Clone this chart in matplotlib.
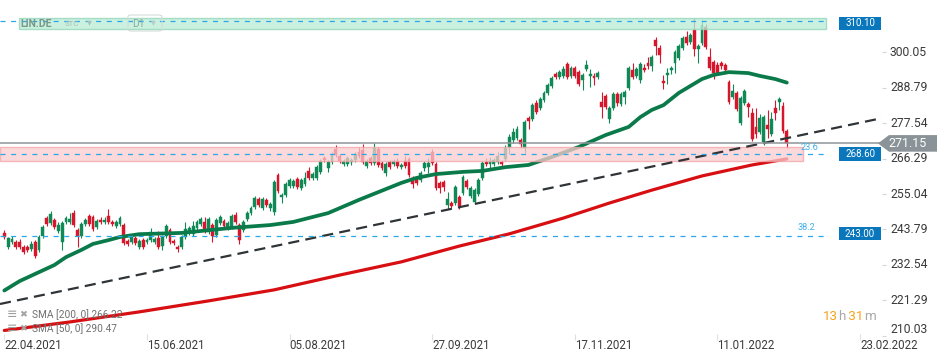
import matplotlib
matplotlib.use('Agg')
import matplotlib.pyplot as plt
import matplotlib.transforms as mtransforms
from matplotlib.patches import Rectangle, Polygon, FancyBboxPatch
import numpy as np

plt.rcParams['font.family'] = ['Roboto', 'DejaVu Sans']

# ---------------- data ----------------
opens = [242.7, 238.2, 239.8, 239.8, 239.8, 238.2, 238.2, 237.6, 239.8, 237.3,
         241.7, 247.4, 245.8, 246.8, 243.3, 239.8, 246.1, 246.1, 249.0, 243.6,
         241.7, 245.5, 248.1, 247.7, 244.6, 246.8, 246.1, 248.1, 246.1, 244.9,
         245.5, 245.2, 240.1, 239.8, 241.1, 238.2, 240.5, 239.8, 240.5, 239.8,
         241.1, 238.5, 241.7, 243.6, 240.1, 238.2, 238.2, 241.4, 242.7, 242.4,
         244.3, 245.5, 246.1, 243.0, 245.2, 242.0, 245.8, 246.5, 244.3, 244.6,
         248.4, 245.2, 243.6, 247.1, 249.0, 250.9, 253.5, 250.6, 253.2, 250.6,
         249.3, 261.1, 254.1, 254.8, 257.6, 257.6, 259.8, 257.0, 258.2, 262.4,
         260.1, 260.1, 262.0, 266.5, 263.3, 265.2, 269.4, 267.1, 264.6, 264.6,
         265.2, 265.9, 268.4, 269.0, 264.0, 266.5, 264.9, 269.4, 264.9, 261.7,
         265.2, 264.6, 265.5, 263.6, 265.6, 266.2, 260.1, 259.8, 259.5, 263.3,
         263.6, 268.4, 264.6, 258.5, 258.9, 251.6, 252.2, 252.2, 254.1, 255.4,
         259.2, 254.4, 252.5, 255.1, 260.1, 265.2, 264.6, 264.6, 265.2, 265.2,
         266.2, 270.0, 272.2, 272.9, 272.2, 269.7, 279.2, 278.9, 284.0, 282.4,
         284.9, 287.2, 289.4, 293.2, 292.2, 292.5, 296.4, 292.5, 295.1, 293.8,
         291.3, 294.8, 292.6, 292.6, 292.2, 284.3, 286.2, 278.9, 282.4, 286.8,
         283.7, 285.9, 288.8, 294.5, 292.5, 291.2, 295.1, 296.7, 295.7, 304.0,
         301.5, 291.0, 292.9, 294.5, 296.7, 298.3, 301.5, 305.0, 303.4, 307.2,
         301.1, 303.0, 308.1, 298.6, 297.0, 296.1, 296.7, 296.1, 290.7, 285.9,
         287.2, 277.6, 284.0, 283.7, 280.8, 276.4, 274.8, 271.6, 277.0, 274.1,
         282.4, 284.3, 283.0, 275.1]
highs = [243.5, 241.4, 241.6, 240.5, 240.8, 239.0, 238.9, 240.2, 240.5, 242.0,
         245.2, 248.0, 249.6, 247.4, 246.1, 246.5, 248.0, 249.0, 250.0, 244.3,
         246.1, 247.4, 248.7, 248.3, 247.1, 247.7, 247.7, 250.3, 246.8, 246.8,
         248.0, 245.8, 240.8, 242.0, 241.7, 240.8, 241.1, 241.1, 244.3, 241.4,
         243.3, 242.0, 245.5, 244.3, 240.8, 238.9, 242.0, 246.2, 244.9, 246.5,
         246.8, 247.7, 247.7, 247.7, 245.8, 247.4, 248.3, 247.1, 246.5, 248.7,
         249.3, 245.8, 246.8, 249.6, 251.2, 254.4, 254.1, 254.1, 253.8, 252.5,
         259.5, 261.7, 255.4, 258.9, 260.1, 259.8, 260.5, 260.1, 262.0, 263.6,
         262.0, 264.3, 266.1, 267.1, 265.9, 268.4, 270.6, 267.7, 266.1, 267.1,
         266.5, 268.4, 270.0, 270.9, 266.1, 267.1, 271.4, 270.0, 265.5, 265.2,
         265.9, 266.1, 266.5, 264.9, 267.1, 266.8, 260.8, 260.5, 262.4, 265.5,
         266.5, 269.4, 265.2, 259.2, 259.5, 255.7, 252.9, 257.9, 254.8, 261.1,
         259.8, 257.6, 256.9, 260.1, 265.5, 266.5, 266.8, 266.5, 268.4, 265.9,
         270.6, 274.1, 276.0, 276.7, 272.9, 278.6, 279.8, 284.0, 284.9, 285.9,
         287.8, 290.3, 292.5, 293.8, 294.4, 295.7, 297.0, 295.7, 295.7, 294.4,
         293.5, 297.6, 294.8, 293.5, 294.1, 287.5, 286.8, 283.0, 287.5, 287.5,
         287.5, 288.1, 295.7, 296.7, 295.4, 296.9, 296.4, 298.6, 299.2, 304.9,
         302.4, 292.9, 295.1, 295.7, 300.8, 302.7, 305.3, 306.9, 306.3, 311.0,
         302.7, 310.4, 309.0, 301.5, 297.6, 297.0, 297.3, 296.7, 291.3, 290.0,
         287.8, 286.2, 288.4, 284.3, 282.4, 282.4, 280.5, 280.1, 281.8, 281.1,
         284.9, 285.9, 284.3, 275.7]
lows = [240.8, 237.6, 239.2, 237.6, 237.5, 236.0, 236.7, 236.9, 234.8, 236.7,
        241.1, 244.9, 245.2, 243.9, 242.7, 237.3, 245.5, 245.5, 244.6, 238.2,
        241.1, 244.9, 244.9, 243.3, 244.0, 245.5, 245.5, 245.5, 244.9, 244.3,
        244.9, 238.9, 238.6, 239.2, 238.9, 237.6, 237.6, 239.2, 239.8, 239.2,
        237.6, 237.3, 241.1, 239.2, 238.9, 236.6, 237.6, 240.8, 242.1, 241.7,
        243.6, 244.9, 242.7, 242.4, 239.8, 241.4, 245.2, 244.3, 243.6, 244.0,
        245.5, 239.2, 243.0, 246.5, 248.4, 250.3, 250.9, 250.0, 250.9, 249.6,
        248.4, 255.4, 252.2, 254.1, 256.9, 256.9, 256.6, 256.3, 257.6, 259.5,
        259.5, 259.5, 261.4, 265.2, 262.0, 264.6, 266.8, 264.9, 264.0, 264.0,
        264.3, 265.2, 266.5, 264.6, 263.3, 264.3, 264.3, 263.6, 262.7, 260.8,
        263.0, 264.0, 263.3, 263.0, 263.3, 260.5, 256.9, 257.9, 258.9, 262.4,
        261.8, 264.3, 256.3, 255.4, 256.0, 250.3, 250.6, 251.6, 250.3, 254.8,
        256.6, 253.8, 251.9, 254.4, 259.5, 264.0, 263.3, 264.0, 264.6, 264.0,
        265.5, 267.7, 271.3, 272.2, 269.7, 268.1, 275.7, 278.3, 280.5, 281.8,
        284.3, 286.5, 288.8, 291.6, 291.6, 291.9, 291.6, 291.9, 291.9, 289.4,
        288.1, 294.1, 289.0, 289.7, 291.6, 279.2, 282.1, 277.6, 281.8, 283.0,
        283.0, 283.7, 288.1, 291.6, 291.9, 290.3, 293.8, 294.8, 294.1, 299.2,
        296.7, 288.4, 290.0, 293.2, 293.5, 297.6, 300.8, 302.4, 302.7, 298.9,
        296.7, 302.4, 301.1, 294.5, 291.6, 292.9, 294.8, 293.8, 283.7, 285.3,
        281.4, 277.0, 283.3, 279.5, 271.9, 272.9, 274.1, 270.6, 272.9, 273.5,
        278.6, 281.8, 274.5, 269.7]
closes = [241.4, 241.1, 240.8, 238.2, 238.2, 236.6, 237.3, 239.2, 235.4, 241.4,
          244.6, 245.5, 248.7, 244.6, 245.2, 245.8, 247.4, 247.1, 245.2, 241.7,
          245.5, 246.8, 245.5, 243.9, 246.5, 246.1, 246.8, 246.1, 245.5, 246.1,
          247.4, 239.5, 239.2, 241.4, 239.5, 240.1, 238.2, 240.5, 243.0, 240.8,
          238.2, 241.4, 244.9, 239.8, 239.5, 237.6, 241.4, 243.9, 244.3, 244.9,
          246.1, 247.1, 243.3, 247.1, 241.7, 246.8, 247.7, 244.9, 245.8, 248.1,
          246.1, 240.5, 246.1, 249.0, 250.6, 253.8, 251.6, 253.5, 251.6, 251.9,
          258.9, 256.0, 254.8, 258.2, 259.5, 259.2, 257.3, 259.5, 260.1, 260.1,
          261.4, 263.6, 265.5, 265.9, 265.2, 267.4, 267.4, 265.5, 265.5, 266.5,
          265.9, 267.7, 267.1, 265.2, 265.5, 264.9, 269.7, 264.3, 263.3, 264.6,
          263.6, 265.5, 263.9, 264.3, 264.0, 261.1, 258.2, 258.5, 261.7, 264.9,
          264.9, 264.9, 257.0, 257.0, 257.3, 253.5, 251.2, 257.3, 251.2, 260.5,
          257.3, 256.9, 256.3, 259.5, 264.9, 264.6, 265.5, 265.9, 267.1, 264.6,
          269.7, 273.2, 274.8, 275.7, 271.0, 277.9, 278.3, 283.4, 281.1, 285.3,
          287.2, 289.7, 291.9, 292.2, 293.8, 294.8, 292.2, 295.1, 292.5, 290.0,
          292.9, 296.1, 293.2, 291.9, 293.5, 282.7, 282.7, 282.4, 286.8, 284.0,
          286.8, 287.5, 295.1, 292.2, 294.8, 296.3, 294.5, 295.7, 298.6, 302.1,
          299.2, 290.3, 293.5, 295.1, 300.2, 302.1, 304.6, 303.0, 305.6, 301.1,
          302.1, 308.8, 301.8, 295.1, 293.5, 293.5, 295.7, 294.5, 284.3, 287.8,
          282.1, 285.6, 287.8, 282.7, 272.5, 274.1, 279.2, 279.5, 275.7, 278.9,
          280.8, 285.3, 275.1, 271.15]

sma50_bar = [0, 4, 13, 16, 20, 23, 27, 30, 35, 46, 59, 69, 75, 84, 92, 103, 107,
             112, 119, 124, 130, 136, 142, 149, 156, 162, 165, 168, 171, 175, 181,
             184, 188, 193, 196, 200, 203]
sma50_val = [224.4, 227.4, 232.5, 235.0, 237.3, 239.2, 240.4, 241.4, 242.3, 242.7,
             244.3, 245.2, 246.2, 249.0, 253.2, 258.6, 260.2, 261.4, 262.1, 262.4,
             263.6, 264.3, 266.8, 270.0, 273.8, 276.4, 279.5, 281.8, 283.3, 287.2,
             291.6, 292.9, 293.8, 293.5, 292.6, 291.6, 290.47]
sma200_bar = [0, 17, 35, 53, 70, 87, 103, 118, 131, 145, 157, 168, 181, 194, 203]
sma200_val = [211.7, 214.4, 217.6, 221.1, 224.6, 229.3, 233.5, 238.5, 242.4, 247.4,
              252.2, 256.3, 260.8, 264.3, 266.22]

trend_bar = [0, 220]
trend_val = [220.4, 277.2]

date_labels = ['22.04.2021', '15.06.2021', '05.08.2021', '27.09.2021',
               '17.11.2021', '11.01.2022', '23.02.2022']
date_ticks = [0, 37, 74, 111, 148, 185, 222]

price_ticks = [300.05, 288.79, 277.54, 266.29, 255.04, 243.79, 232.54, 221.29, 210.03]

last_price = 271.15
resistance_level = 310.10
resistance_zone = (307.4, 311.0)
support_zone = (265.55, 270.0)
fib_names = ['23.6', '38.2']
fib_values = [267.8, 241.8]
box_texts = ['310.10', '268.60', '243.00']
box_values = [309.3, 267.8, 242.5]
sma200_last = 266.22
sma50_last = 290.47
timer_parts = ['13', 'h', ' 31', 'm']

# ---------------- styling ----------------
GREEN = '#0f8a57'
RED = '#d8162b'
SMA50_C = '#0b7a4b'
SMA200_C = '#d70f12'
BLUE = '#0a77bd'
FIB = '#2aa7e8'
W, H = 950, 361
AX_W, AX_H = 882, 337

fig = plt.figure(figsize=(W / 100, H / 100), dpi=100)
ax = fig.add_axes([0, (H - AX_H) / H, AX_W / W, AX_H / H])
ax.set_xlim(-1.12, 227.7)
ax.set_ylim(209.62, 316.72)
for s in ax.spines.values():
    s.set_visible(False)

def fx(px):
    return px / W

def fy(py):
    return 1 - py / H

# candles
o = np.array(opens); c = np.array(closes); hi = np.array(highs); lo = np.array(lows)
idx = np.arange(len(o))
up = c >= o
cols = np.where(up, GREEN, RED)
ax.vlines(idx, lo, hi, colors=cols, lw=0.8, zorder=3)
ax.bar(idx, np.maximum(np.abs(c - o), 0.35), bottom=np.minimum(o, c), width=0.74,
       color=cols, edgecolor=cols, linewidth=0.3, zorder=3)

# moving averages
ax.plot(sma200_bar, sma200_val, color=SMA200_C, lw=2.3, zorder=4, solid_capstyle='round')
ax.plot(sma50_bar, sma50_val, color=SMA50_C, lw=2.7, zorder=4, solid_capstyle='round')

# zones (drawn over candles, semi transparent)
ax.add_patch(Rectangle((3.8, resistance_zone[0]), 213.2 - 3.8,
                       resistance_zone[1] - resistance_zone[0],
                       facecolor='#bbedd8', edgecolor='#93d6b9', lw=1.0, alpha=0.78, zorder=5))
ax.add_patch(Rectangle((-1.12, support_zone[0]), 207.2 + 1.12,
                       support_zone[1] - support_zone[0],
                       facecolor='#facdd0', edgecolor='#f2a3a8', lw=1.0, alpha=0.75, zorder=5))

# trend line
ax.axline((trend_bar[0], trend_val[0]), (trend_bar[1], trend_val[1]), color='#2f3437',
          lw=1.6, dashes=(5.0, 2.8), zorder=6)

# level lines
ax.plot([-1.12, 213.2], [resistance_level] * 2, color=FIB, lw=0.9, dashes=(4, 4.5), zorder=6)
for name, v in zip(fib_names, fib_values):
    ax.plot([-1.12, 213.2], [v, v], color=FIB, lw=0.9, dashes=(4, 4.5), zorder=6)
ax.text(206.5, fib_values[0] + 2.1, fib_names[0], color='#3fb0ea', fontsize=6.6,
        va='center', ha='left', zorder=7)
ax.text(205.7, fib_values[1] + 2.6, fib_names[1], color='#3fb0ea', fontsize=6.6,
        va='center', ha='left', zorder=7)
ax.axhline(last_price, color='#8e9599', lw=1.1, zorder=6)

trans = mtransforms.blended_transform_factory(ax.transAxes, ax.transData)

# blue level boxes
bx0, bx1 = 839.3 / AX_W, 880.7 / AX_W
bh = 13.4 * (316.72 - 209.62) / AX_H
for t, v in zip(box_texts, box_values):
    ax.add_patch(Rectangle((bx0, v - bh / 2), bx1 - bx0, bh, transform=trans,
                           facecolor=BLUE, edgecolor='none', zorder=8, clip_on=False))
    ax.text((bx0 + bx1) / 2, v, t, transform=trans, color='white', fontsize=7.0,
            ha='center', va='center', zorder=9)

# last price arrow label
gh = 8.3 * (316.72 - 209.62) / AX_H
poly = [(878 / AX_W, last_price), (889 / AX_W, last_price + gh), (937 / AX_W, last_price + gh),
        (937 / AX_W, last_price - gh), (889 / AX_W, last_price - gh)]
ax.add_patch(Polygon(poly, closed=True, transform=trans, facecolor='#8a9397',
                     edgecolor='none', zorder=8, clip_on=False))
ax.text(908 / AX_W, last_price, f'{last_price:.2f}', transform=trans, color='white',
        fontsize=9.0, ha='center', va='center', zorder=9)

# y ticks on the right
ax.set_yticks(price_ticks)
ax.yaxis.tick_right()
ax.tick_params(axis='y', length=3, width=0.8, color='#d6d6d6', labelright=False, labelleft=False)
for i, v in enumerate(price_ticks):
    ax.text(890 / AX_W, v, f'{v:.2f}', transform=trans, fontsize=8.7, color='#3a3a3a',
            ha='left', va='bottom' if i == len(price_ticks) - 1 else 'center', clip_on=False)

# x ticks
ax.set_xticks(date_ticks)
ax.set_xticklabels(date_labels, ha='left', fontsize=8.3, color='#3a3a3a')
ax.tick_params(axis='x', length=4, width=0.8, direction='inout', color='#e0e0e0', pad=-0.5)

# top-left header
fig.text(fx(20.5), fy(23.7), 'LIN.DE', fontsize=7.6, fontweight='bold', color='#789888',
         va='center', ha='left', zorder=10)
fig.text(fx(65), fy(24.5), 'STC', fontsize=5.6, color='#a3c1b3', va='center', ha='left')
fig.text(fx(86.5), fy(22.5), '▾', fontsize=7, color='#a8c5b8', va='center', ha='left',
         family=['DejaVu Sans'])
fig.patches.append(FancyBboxPatch((fx(128), fy(31)), fx(162) - fx(128), fy(15) - fy(31),
                                  boxstyle='round,pad=0,rounding_size=0.004',
                                  transform=fig.transFigure, facecolor='none',
                                  edgecolor='#d4dcd8', lw=0.8))
fig.text(fx(132.5), fy(23.7), 'D1', fontsize=7.4, color='#88ab9c', va='center', ha='left')
fig.text(fx(151), fy(22.5), '▾', fontsize=7, color='#b7cdc3', va='center', ha='left',
         family=['DejaVu Sans'])

# bottom-left legend
for row_y, label in [(314.5, f'SMA [200, 0] {sma200_last:.2f}'),
                     (328.3, f'SMA [50, 0] {sma50_last:.2f}')]:
    fig.text(fx(6.5), fy(row_y), '≡', fontsize=9, color='#9c9c9c', va='center', ha='left',
             family=['DejaVu Sans'])
    fig.text(fx(19.5), fy(row_y), '✖', fontsize=6.8, color='#a3a3a3', va='center', ha='left',
             family=['DejaVu Sans'])
    fig.text(fx(31.5), fy(row_y), label, fontsize=7.3, color='#6f6f6f', va='center', ha='left')

# timer, pieces chained one after another
timer_cols = ['#f5a21c', '#a8a8a8', '#f5a21c', '#a8a8a8']
prev = fig.text(fx(823), fy(316), timer_parts[0], fontsize=9.6, color=timer_cols[0],
                va='center', ha='left')
for txt, col in zip(timer_parts[1:], timer_cols[1:]):
    prev = fig.text(0, 0, txt, fontsize=9.6, color=col, va='center', ha='left')
    fig.canvas.draw()
    
# re-place chained pieces using rendered extents
fig.canvas.draw()
renderer = fig.canvas.get_renderer()
pieces = [t for t in fig.texts if t.get_text() in timer_parts]
x_px = 823
for t in pieces:
    t.set_position((fx(x_px), fy(316)))
    bb = t.get_window_extent(renderer)
    x_px += bb.width

fig.savefig('out.png', dpi=100, facecolor='white')
